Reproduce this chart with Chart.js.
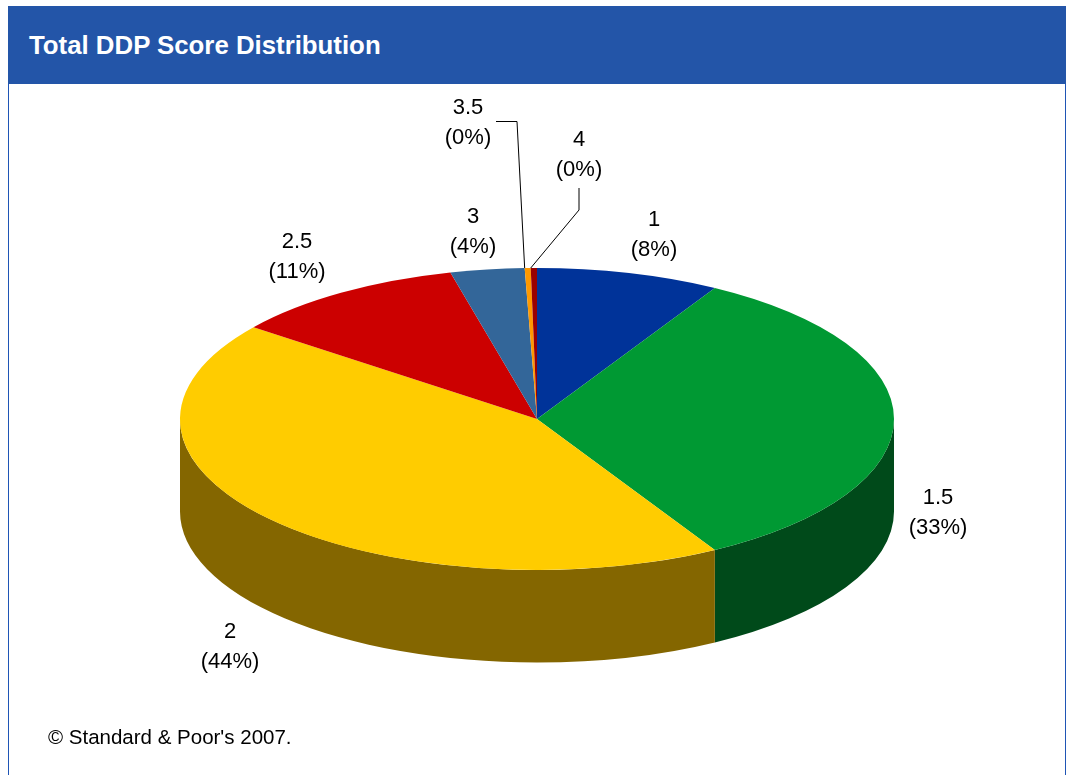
<!DOCTYPE html>
<html>
<head>
<meta charset="utf-8">
<title>Total DDP Score Distribution</title>
<script src="https://cdn.jsdelivr.net/npm/chart.js@4"></script>
<style>
  html, body { margin: 0; padding: 0; background: #fff; overflow: hidden; }
  body { width: 1066px; height: 775px; position: relative; font-family: "Liberation Sans", Arial, sans-serif; }
  #frame { position: absolute; left: 8px; top: 6px; width: 1056px; height: 769px; border-left: 1px solid #1f55b5; border-right: 1px solid #1f55b5; }
  #header { position: absolute; left: 8px; top: 6px; width: 1058px; height: 78px; background: #2355a8; color: #fff; font-weight: bold; font-size: 25.8px; line-height: 79px; text-indent: 21px; }
  #footer { position: absolute; left: 48px; top: 725px; font-size: 20.5px; line-height: 24px; color: #000; }
  canvas { position: absolute; left: 0; top: 0; }
</style>
</head>
<body>
<div id="frame"></div>
<div id="header">Total DDP Score Distribution</div>
<canvas id="ddpChart" width="1066" height="775"></canvas>
<div id="footer">© Standard &amp; Poor's 2007.</div>
<script>
const scores = ['1', '1.5', '2', '2.5', '3', '3.5', '4'];
const shares = [8.3, 33.4, 43.7, 10.7, 3.35, 0.27, 0.28];
const shareLabels = ['(8%)', '(33%)', '(44%)', '(11%)', '(4%)', '(0%)', '(0%)'];
const topColors = ['#003399', '#009933', '#ffcc00', '#cc0000', '#336699', '#ff9900', '#990000'];
const sideColors = ['#001a4d', '#004a1a', '#846600', '#660000', '#1a334d', '#804d00', '#4d0000'];

const PIE_RADIUS = 357;
const TILT = 0.423;    // top face squashed to an ellipse
const DEPTH = 92.5;

// label centre for each slice, first line
const labelSpots = [[654, 220], [938, 498], [230, 632], [297, 242], [473, 217], [468, 108], [579, 140]];
const LINE_GAP = 29.5;

const tiltedPie = {
  id: 'tiltedPie',
  beforeDatasetsDraw(chart) {
    const ctx = chart.ctx;
    const arcs = chart.getDatasetMeta(0).data;
    // side wall, only the part of each slice facing the viewer
    arcs.forEach((arc, i) => {
      const a1 = Math.max(arc.startAngle, 0);
      const a2 = Math.min(arc.endAngle, Math.PI);
      if (a2 <= a1) return;
      const r = arc.outerRadius;
      ctx.beginPath();
      ctx.ellipse(arc.x, arc.y, r, r * TILT, 0, a1, a2);
      ctx.ellipse(arc.x, arc.y + DEPTH, r, r * TILT, 0, a2, a1, true);
      ctx.closePath();
      ctx.fillStyle = sideColors[i];
      ctx.fill();
    });
    const c = arcs[0];
    ctx.save();
    ctx.translate(c.x, c.y);
    ctx.scale(1, TILT);
    ctx.translate(-c.x, -c.y);
  },
  afterDatasetsDraw(chart) {
    const ctx = chart.ctx;
    ctx.restore();
    const arcs = chart.getDatasetMeta(0).data;

    // leader lines for the two thin slices
    const rimPoint = arc => [
      arc.x + arc.outerRadius * Math.cos(arc.startAngle),
      arc.y + arc.outerRadius * TILT * Math.sin(arc.startAngle)
    ];
    const leaders = [
      [5, [[496, 121.5], [517, 121.5]]],
      [6, [[579, 188], [579, 210]]]
    ];
    ctx.strokeStyle = '#000';
    ctx.lineWidth = 1;
    leaders.forEach(([i, pts]) => {
      const end = rimPoint(arcs[i]);
      ctx.beginPath();
      ctx.moveTo(pts[0][0], pts[0][1]);
      ctx.lineTo(pts[1][0], pts[1][1]);
      ctx.lineTo(end[0], end[1]);
      ctx.stroke();
    });

    ctx.fillStyle = '#000';
    ctx.font = '22px "Liberation Sans", Arial, sans-serif';
    ctx.textAlign = 'center';
    ctx.textBaseline = 'middle';
    scores.forEach((s, i) => {
      const [x, y] = labelSpots[i];
      ctx.fillText(s, x, y);
      ctx.fillText(shareLabels[i], x, y + LINE_GAP);
    });
  }
};

new Chart(document.getElementById('ddpChart').getContext('2d'), {
  type: 'pie',
  data: {
    labels: scores,
    datasets: [{
      data: shares,
      backgroundColor: topColors,
      borderWidth: 0,
      clip: false
    }]
  },
  options: {
    responsive: false,
    animation: false,
    radius: PIE_RADIUS,
    layout: { padding: { left: 8, top: 63 } },
    plugins: {
      legend: { display: false },
      tooltip: { enabled: false }
    }
  },
  plugins: [tiltedPie]
});
</script>
</body>
</html>
